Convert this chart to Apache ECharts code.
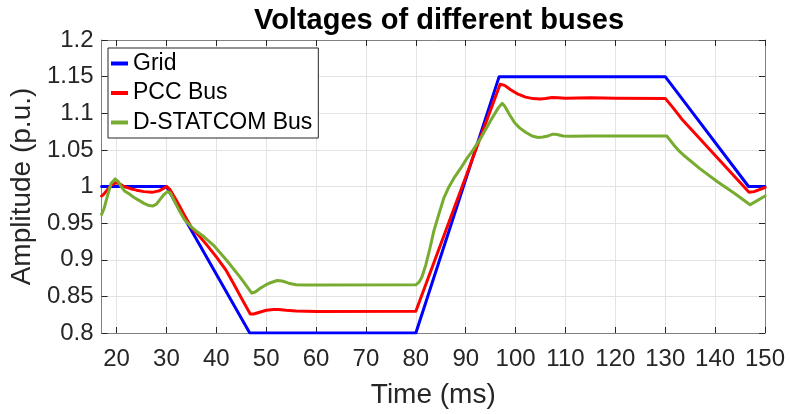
<!DOCTYPE html>
<html>
<head>
<meta charset="utf-8">
<script src="https://cdn.jsdelivr.net/npm/echarts@6/dist/echarts.min.js"></script>
<style>html,body{margin:0;padding:0;background:#fff}#c{width:790px;height:414px}</style>
</head>
<body>
<div id="c"></div>
<script>
const seriesNames = ['Grid', 'PCC Bus', 'D-STATCOM Bus'];
const xTicks = [20, 30, 40, 50, 60, 70, 80, 90, 100, 110, 120, 130, 140, 150];

const gridTime = [17, 30, 46.7, 80, 96.7, 130, 146.7, 150];
const gridVal  = [1, 1, 0.8, 0.8, 1.15, 1.15, 1, 1];

const pccTime = [17, 17.5, 18.2, 19, 19.8, 20.5, 21.5, 22.8, 24, 25.5, 27.1, 28.5, 29.3, 30, 30.7, 32, 33.5, 35, 36.5, 38, 40, 42, 43.5, 45, 46.8, 47.5, 48.5, 50, 51.5, 52.5, 54, 56, 60, 80, 96.9, 97.8, 99, 100.5, 102, 103.5, 104.9, 106, 107.3, 108.5, 110, 115, 120, 130, 131.5, 133.3, 146.8, 147.8, 150];
const pccVal  = [0.987, 0.990, 0.996, 1.002, 1.005, 1.004, 1.000, 0.997, 0.995, 0.993, 0.992, 0.994, 0.997, 1.0, 0.996, 0.981, 0.962, 0.944, 0.933, 0.921, 0.904, 0.885, 0.867, 0.848, 0.826, 0.826, 0.828, 0.831, 0.832, 0.832, 0.831, 0.830, 0.8295, 0.8297, 1.1396, 1.138, 1.132, 1.126, 1.122, 1.120, 1.1195, 1.120, 1.1215, 1.121, 1.1205, 1.121, 1.1205, 1.1203, 1.108, 1.0923, 0.9923, 0.993, 0.9986];

const dstTime = [17, 17.5, 18.2, 18.9, 19.7, 20.3, 20.9, 21.6, 22.5, 23.5, 24.5, 25.5, 26.5, 27.3, 28, 28.8, 29.5, 30.2, 30.8, 31.6, 32.5, 33.6, 34.8, 36, 37.4, 39.4, 42.1, 44.8, 46.3, 47.1, 47.8, 48.8, 50, 51, 52.2, 53.2, 54.5, 56, 58, 80, 80.6, 81.2, 82, 82.8, 83.6, 84.6, 85.6, 86.6, 87.6, 89, 90.2, 91.5, 93, 95, 96.5, 97.3, 97.8, 98.8, 99.8, 100.8, 102, 103.3, 104.5, 105.5, 106.5, 107.5, 108.3, 109.5, 111, 115, 120, 125, 130.3, 131, 131.8, 132.7, 133.7, 137, 140.4, 144, 147, 148, 150];
const dstVal  = [0.962, 0.970, 0.988, 1.004, 1.0103, 1.007, 1.000, 0.994, 0.990, 0.985, 0.981, 0.977, 0.974, 0.9735, 0.976, 0.983, 0.989, 0.993, 0.991, 0.980, 0.968, 0.955, 0.946, 0.939, 0.932, 0.920, 0.899, 0.876, 0.862, 0.8545, 0.856, 0.861, 0.866, 0.869, 0.8716, 0.871, 0.868, 0.866, 0.8655, 0.8657, 0.869, 0.876, 0.893, 0.915, 0.939, 0.962, 0.984, 0.999, 1.011, 1.025, 1.038, 1.050, 1.066, 1.090, 1.107, 1.1135, 1.110, 1.098, 1.087, 1.080, 1.074, 1.069, 1.067, 1.0675, 1.069, 1.0715, 1.071, 1.069, 1.0685, 1.069, 1.069, 1.0688, 1.069, 1.063, 1.056, 1.049, 1.0427, 1.024, 1.0068, 0.990, 0.975, 0.979, 0.987];

const pair = (t, v) => t.map((x, i) => [x, v[i]]);
const colors = ['#0000ff', '#ff0000', '#77ac30'];
const font = 'Liberation Sans, Arial, sans-serif';
const axisCol = '#808080';
const txtCol = '#262626';

const chart = echarts.init(document.getElementById('c'), null, {renderer: 'canvas'});
chart.setOption({
  animation: false,
  backgroundColor: '#ffffff',
  title: {
    text: 'Voltages of different buses',
    left: 434, textAlign: 'center', top: 1,
    textStyle: {fontFamily: font, fontSize: 29, fontWeight: 'bold', color: '#000'}
  },
  grid: {left: 101, right: 25, top: 40, bottom: 78},
  legend: {
    orient: 'vertical', left: 108, top: 48,
    data: seriesNames,
    icon: 'rect', itemWidth: 17, itemHeight: 4, itemGap: 4.5,
    padding: [3, 6, 3, 3],
    borderColor: txtCol, borderWidth: 1, backgroundColor: '#fff',
    textStyle: {fontFamily: font, fontSize: 23, color: '#000', lineHeight: 25}
  },
  xAxis: [{
    type: 'value', min: 17, max: 150,
    name: 'Time (ms)', nameLocation: 'middle', nameGap: 48,
    nameTextStyle: {fontFamily: font, fontSize: 28, color: txtCol},
    axisLine: {show: true, lineStyle: {color: axisCol, width: 1}},
    axisTick: {show: true, inside: true, length: 6, customValues: xTicks, lineStyle: {color: txtCol}},
    axisLabel: {customValues: xTicks, fontFamily: font, fontSize: 24, color: txtCol, margin: 14},
    splitLine: {show: true, lineStyle: {color: '#e3e3e3', width: 1}}
  }, {
    type: 'value', min: 17, max: 150, position: 'top',
    axisLine: {show: true, lineStyle: {color: axisCol, width: 1}},
    axisTick: {show: true, inside: true, length: 6, customValues: xTicks, lineStyle: {color: txtCol}},
    axisLabel: {show: false},
    splitLine: {show: false}
  }],
  yAxis: [{
    type: 'value', min: 0.8, max: 1.2, interval: 0.05,
    name: 'Amplitude (p.u.)', nameLocation: 'middle', nameGap: 64, nameRotate: 90,
    nameTextStyle: {fontFamily: font, fontSize: 28, color: txtCol},
    axisLine: {show: true, lineStyle: {color: axisCol, width: 1}},
    axisTick: {show: true, inside: true, length: 6, lineStyle: {color: txtCol}},
    axisLabel: {fontFamily: font, fontSize: 24, color: txtCol, margin: 8},
    splitLine: {show: true, lineStyle: {color: '#e3e3e3', width: 1}}
  }, {
    type: 'value', min: 0.8, max: 1.2, interval: 0.05, position: 'right',
    axisLine: {show: true, lineStyle: {color: axisCol, width: 1}},
    axisTick: {show: true, inside: true, length: 6, lineStyle: {color: txtCol}},
    axisLabel: {show: false},
    splitLine: {show: false}
  }],
  series: [
    {name: seriesNames[0], type: 'line', data: pair(gridTime, gridVal), color: colors[0]},
    {name: seriesNames[1], type: 'line', data: pair(pccTime, pccVal), color: colors[1]},
    {name: seriesNames[2], type: 'line', data: pair(dstTime, dstVal), color: colors[2]}
  ].map(s => Object.assign(s, {showSymbol: false, symbol: 'none', lineStyle: {width: 3, join: 'round', cap: 'round'}, clip: true}))
});
</script>
</body>
</html>
